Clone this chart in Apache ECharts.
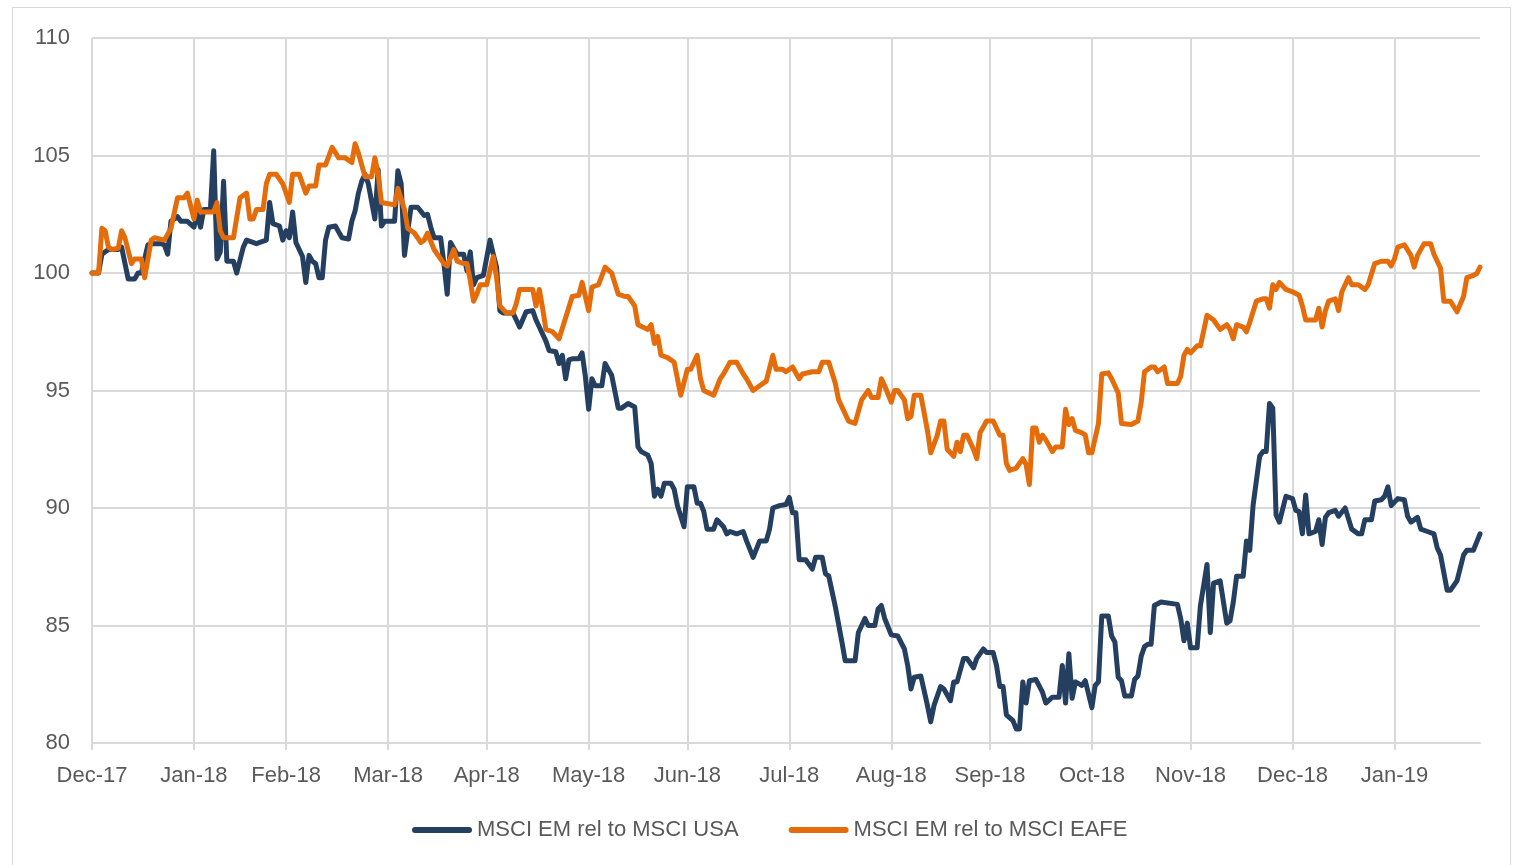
<!DOCTYPE html>
<html><head><meta charset="utf-8">
<script src="https://cdn.jsdelivr.net/npm/echarts@6/dist/echarts.min.js"></script>
<style>
html,body{margin:0;padding:0;background:#fff;overflow:hidden;width:1514px;height:865px;}
#frame{position:absolute;left:12px;top:7px;width:1499px;height:880px;border:1px solid #d9d9d9;box-sizing:border-box;}
#chart{position:absolute;left:0;top:0;width:1514px;height:865px;}
</style></head><body>
<div id="frame"></div>
<div id="chart"></div>
<script>
const axisStart = '2017-12-31';
const axisEnd = '2019-02-26';
const tickDates = ['2017-12-31','2018-01-31','2018-02-28','2018-03-31','2018-04-30','2018-05-31','2018-06-30','2018-07-31','2018-08-31','2018-09-30','2018-10-31','2018-11-30','2018-12-31','2019-01-31'];
const tickLabels = ['Dec-17','Jan-18','Feb-18','Mar-18','Apr-18','May-18','Jun-18','Jul-18','Aug-18','Sep-18','Oct-18','Nov-18','Dec-18','Jan-19'];
const yMin = 80, yMax = 110, yStep = 5;
const seriesNames = ['MSCI EM rel to MSCI USA','MSCI EM rel to MSCI EAFE'];
const seriesColors = ['#243F60','#E46C0A'];

const usaPoints = [
['2017-12-31',100.0],['2018-01-02',100.0],['2018-01-03',100.8],['2018-01-05',101.0],['2018-01-08',101.0],['2018-01-09',101.1],['2018-01-11',99.75],['2018-01-13',99.75],['2018-01-14',100.0],['2018-01-15',100.0],['2018-01-17',101.2],['2018-01-18',101.25],['2018-01-21',101.25],['2018-01-22',101.2],['2018-01-23',100.8],['2018-01-24',102.2],['2018-01-26',102.4],['2018-01-27',102.2],['2018-01-29',102.2],['2018-01-31',101.95],
['2018-02-01',102.5],['2018-02-02',101.95],['2018-02-03',102.7],['2018-02-05',102.7],['2018-02-06',105.2],['2018-02-07',100.6],['2018-02-08',100.9],['2018-02-09',103.9],['2018-02-10',100.5],['2018-02-12',100.5],['2018-02-13',100.0],['2018-02-15',101.1],['2018-02-16',101.4],['2018-02-19',101.25],['2018-02-20',101.3],['2018-02-22',101.4],['2018-02-23',103.0],['2018-02-24',102.1],['2018-02-26',102.0],['2018-02-27',101.4],['2018-02-28',101.8],
['2018-03-01',101.5],['2018-03-02',102.6],['2018-03-03',101.3],['2018-03-05',100.7],['2018-03-06',99.6],['2018-03-07',100.75],['2018-03-08',100.5],['2018-03-09',100.4],['2018-03-10',99.8],['2018-03-11',99.8],['2018-03-12',101.4],['2018-03-13',101.95],['2018-03-15',102.0],['2018-03-17',101.5],['2018-03-19',101.45],['2018-03-20',102.2],['2018-03-21',102.65],['2018-03-22',103.4],['2018-03-23',103.9],['2018-03-24',104.2],['2018-03-25',103.8],['2018-03-27',102.3],['2018-03-28',104.4],['2018-03-29',102.0],['2018-03-30',102.2],
['2018-04-02',102.2],['2018-04-03',104.35],['2018-04-04',103.8],['2018-04-05',100.75],['2018-04-06',101.8],['2018-04-07',102.8],['2018-04-09',102.8],['2018-04-11',102.45],['2018-04-12',102.5],['2018-04-13',101.95],['2018-04-14',101.5],['2018-04-16',101.5],['2018-04-17',100.4],['2018-04-18',99.1],['2018-04-19',101.3],['2018-04-21',100.8],['2018-04-23',100.8],['2018-04-24',100.1],['2018-04-25',100.9],['2018-04-26',99.5],['2018-04-27',99.8],['2018-04-29',99.9],
['2018-05-01',101.4],['2018-05-02',100.8],['2018-05-03',100.25],['2018-05-04',98.4],['2018-05-05',98.3],['2018-05-08',98.3],['2018-05-10',97.7],['2018-05-12',98.35],['2018-05-14',98.4],['2018-05-15',98.0],['2018-05-16',97.7],['2018-05-18',97.1],['2018-05-19',96.7],['2018-05-21',96.65],['2018-05-22',96.15],['2018-05-23',96.5],['2018-05-24',95.5],['2018-05-25',96.3],['2018-05-26',96.35],['2018-05-28',96.35],['2018-05-29',96.6],['2018-05-30',95.6],['2018-05-31',94.2],
['2018-06-01',95.5],['2018-06-02',95.2],['2018-06-04',95.2],['2018-06-05',96.15],['2018-06-06',95.9],['2018-06-07',95.65],['2018-06-09',94.25],['2018-06-10',94.25],['2018-06-12',94.45],['2018-06-14',94.3],['2018-06-15',92.6],['2018-06-16',92.4],['2018-06-18',92.25],['2018-06-19',91.9],['2018-06-20',90.5],['2018-06-21',90.8],['2018-06-22',90.5],['2018-06-23',91.05],['2018-06-25',91.05],['2018-06-26',90.8],['2018-06-27',90.1],['2018-06-29',89.2],['2018-06-30',90.9],
['2018-07-02',90.9],['2018-07-03',90.2],['2018-07-04',90.2],['2018-07-05',89.85],['2018-07-06',89.1],['2018-07-08',89.1],['2018-07-09',89.5],['2018-07-11',89.2],['2018-07-12',88.9],['2018-07-13',89.0],['2018-07-15',88.9],['2018-07-17',89.0],['2018-07-18',88.6],['2018-07-20',87.9],['2018-07-22',88.6],['2018-07-24',88.6],['2018-07-25',89.1],['2018-07-26',90.0],['2018-07-28',90.1],['2018-07-30',90.15],['2018-07-31',90.45],
['2018-08-01',89.8],['2018-08-02',89.8],['2018-08-03',87.8],['2018-08-05',87.8],['2018-08-07',87.4],['2018-08-08',87.9],['2018-08-10',87.9],['2018-08-11',87.2],['2018-08-12',87.1],['2018-08-14',85.8],['2018-08-16',84.3],['2018-08-17',83.5],['2018-08-20',83.5],['2018-08-21',84.7],['2018-08-23',85.3],['2018-08-24',85.0],['2018-08-26',85.0],['2018-08-27',85.7],['2018-08-28',85.85],['2018-08-29',85.3],['2018-08-31',84.6],
['2018-09-02',84.55],['2018-09-04',84.0],['2018-09-05',83.3],['2018-09-06',82.3],['2018-09-07',82.8],['2018-09-09',82.85],['2018-09-11',81.6],['2018-09-12',80.9],['2018-09-13',81.6],['2018-09-15',82.4],['2018-09-16',82.3],['2018-09-18',81.8],['2018-09-19',82.6],['2018-09-20',82.6],['2018-09-22',83.6],['2018-09-23',83.6],['2018-09-25',83.2],['2018-09-26',83.6],['2018-09-28',84.0],['2018-09-29',83.85],
['2018-10-01',83.85],['2018-10-02',83.3],['2018-10-03',82.4],['2018-10-04',82.4],['2018-10-05',81.2],['2018-10-07',80.95],['2018-10-08',80.6],['2018-10-09',80.6],['2018-10-10',82.6],['2018-10-11',81.7],['2018-10-12',82.65],['2018-10-14',82.7],['2018-10-16',82.15],['2018-10-17',81.7],['2018-10-19',81.95],['2018-10-21',81.95],['2018-10-22',83.3],['2018-10-23',81.7],['2018-10-24',83.8],['2018-10-25',81.9],['2018-10-26',82.6],['2018-10-28',82.45],['2018-10-29',82.65],['2018-10-31',81.5],
['2018-11-01',82.45],['2018-11-02',82.6],['2018-11-03',85.4],['2018-11-05',85.4],['2018-11-06',84.55],['2018-11-07',84.3],['2018-11-08',82.8],['2018-11-09',82.65],['2018-11-10',82.0],['2018-11-12',82.0],['2018-11-13',82.7],['2018-11-14',82.85],['2018-11-15',83.7],['2018-11-16',84.1],['2018-11-17',84.2],['2018-11-18',84.2],['2018-11-19',85.85],['2018-11-21',86.0],['2018-11-26',85.9],['2018-11-27',85.3],['2018-11-28',84.35],['2018-11-29',85.1],['2018-11-30',84.05],
['2018-12-02',84.05],['2018-12-03',85.85],['2018-12-05',87.6],['2018-12-06',84.7],['2018-12-07',86.8],['2018-12-09',86.9],['2018-12-11',85.1],['2018-12-12',85.2],['2018-12-13',86.0],['2018-12-14',87.1],['2018-12-16',87.1],['2018-12-17',88.6],['2018-12-18',88.2],['2018-12-19',90.1],['2018-12-21',92.2],['2018-12-22',92.4],['2018-12-23',92.4],['2018-12-24',94.45],['2018-12-25',94.25],['2018-12-26',89.7],['2018-12-27',89.4],['2018-12-29',90.5],['2018-12-31',90.4],
['2019-01-01',89.9],['2019-01-02',89.85],['2019-01-03',88.9],['2019-01-04',90.55],['2019-01-05',88.9],['2019-01-07',89.0],['2019-01-08',89.5],['2019-01-09',88.45],['2019-01-10',89.6],['2019-01-11',89.8],['2019-01-13',89.9],['2019-01-14',89.65],['2019-01-16',90.0],['2019-01-18',89.1],['2019-01-20',88.9],['2019-01-21',88.9],['2019-01-22',89.5],['2019-01-24',89.5],['2019-01-25',90.3],['2019-01-27',90.35],['2019-01-28',90.5],['2019-01-29',90.9],['2019-01-30',90.1],
['2019-02-01',90.4],['2019-02-03',90.35],['2019-02-04',89.65],['2019-02-05',89.4],['2019-02-07',89.6],['2019-02-08',89.1],['2019-02-10',89.0],['2019-02-12',88.9],['2019-02-13',88.3],['2019-02-14',88.0],['2019-02-16',86.5],['2019-02-17',86.5],['2019-02-19',86.9],['2019-02-21',88.0],['2019-02-22',88.2],['2019-02-24',88.2],['2019-02-26',88.9]
];

const eafePoints = [
['2017-12-31',100.0],['2018-01-02',100.0],['2018-01-03',101.9],['2018-01-04',101.8],['2018-01-05',101.1],['2018-01-06',101.0],['2018-01-08',101.05],['2018-01-09',101.8],['2018-01-10',101.5],['2018-01-12',100.4],['2018-01-13',100.6],['2018-01-15',100.6],['2018-01-16',99.8],['2018-01-18',101.4],['2018-01-19',101.5],['2018-01-22',101.4],['2018-01-24',101.9],['2018-01-26',103.2],['2018-01-28',103.2],['2018-01-29',103.4],['2018-01-31',102.3],
['2018-02-01',103.1],['2018-02-02',102.6],['2018-02-06',102.6],['2018-02-07',103.0],['2018-02-08',101.8],['2018-02-09',101.5],['2018-02-12',101.5],['2018-02-14',103.2],['2018-02-16',103.4],['2018-02-17',102.3],['2018-02-18',102.3],['2018-02-19',102.7],['2018-02-21',102.7],['2018-02-22',103.8],['2018-02-23',104.2],['2018-02-25',104.2],['2018-02-27',103.8],
['2018-03-01',103.0],['2018-03-02',104.2],['2018-03-04',104.2],['2018-03-06',103.4],['2018-03-07',103.7],['2018-03-09',103.7],['2018-03-10',104.6],['2018-03-12',104.6],['2018-03-14',105.35],['2018-03-16',104.9],['2018-03-18',104.9],['2018-03-20',104.7],['2018-03-21',105.5],['2018-03-22',105.1],['2018-03-24',104.1],['2018-03-26',104.1],['2018-03-27',104.9],['2018-03-28',104.2],['2018-03-29',103.0],
['2018-04-02',102.9],['2018-04-03',103.6],['2018-04-05',102.7],['2018-04-06',101.9],['2018-04-08',101.7],['2018-04-10',101.3],['2018-04-11',101.4],['2018-04-12',101.7],['2018-04-14',101.0],['2018-04-15',100.8],['2018-04-17',100.4],['2018-04-18',100.3],['2018-04-20',101.0],['2018-04-21',100.5],['2018-04-23',100.4],['2018-04-24',100.4],['2018-04-25',99.7],['2018-04-26',98.8],['2018-04-27',99.1],['2018-04-28',99.5],['2018-04-30',99.5],
['2018-05-02',100.7],['2018-05-03',99.8],['2018-05-04',98.6],['2018-05-06',98.3],['2018-05-08',98.3],['2018-05-09',98.7],['2018-05-10',99.3],['2018-05-12',99.3],['2018-05-14',99.3],['2018-05-15',98.6],['2018-05-16',99.3],['2018-05-17',98.5],['2018-05-18',97.6],['2018-05-20',97.5],['2018-05-22',97.2],['2018-05-24',98.1],['2018-05-26',99.0],['2018-05-28',99.05],['2018-05-29',99.6],['2018-05-31',98.4],
['2018-06-01',99.4],['2018-06-03',99.5],['2018-06-05',100.25],['2018-06-07',100.0],['2018-06-09',99.1],['2018-06-11',99.0],['2018-06-12',99.0],['2018-06-14',98.6],['2018-06-15',97.8],['2018-06-18',97.6],['2018-06-19',97.8],['2018-06-20',97.0],['2018-06-21',97.3],['2018-06-22',96.5],['2018-06-24',96.4],['2018-06-26',96.2],['2018-06-27',95.5],['2018-06-28',94.8],['2018-06-30',95.9],
['2018-07-01',95.9],['2018-07-03',96.5],['2018-07-04',95.5],['2018-07-05',95.0],['2018-07-08',94.8],['2018-07-10',95.5],['2018-07-11',95.7],['2018-07-13',96.2],['2018-07-15',96.2],['2018-07-17',95.7],['2018-07-18',95.5],['2018-07-20',95.0],['2018-07-22',95.2],['2018-07-24',95.4],['2018-07-26',96.5],['2018-07-27',95.9],['2018-07-29',95.9],['2018-07-30',95.8],
['2018-08-01',96.0],['2018-08-03',95.5],['2018-08-04',95.7],['2018-08-07',95.8],['2018-08-09',95.8],['2018-08-10',96.2],['2018-08-12',96.2],['2018-08-14',95.3],['2018-08-15',94.6],['2018-08-18',93.7],['2018-08-20',93.6],['2018-08-22',94.6],['2018-08-24',95.0],['2018-08-25',94.7],['2018-08-27',94.7],['2018-08-28',95.5],['2018-08-29',95.2],['2018-08-31',94.5],
['2018-09-01',95.0],['2018-09-02',95.0],['2018-09-04',94.6],['2018-09-05',93.8],['2018-09-06',93.9],['2018-09-07',94.8],['2018-09-09',94.8],['2018-09-11',93.3],['2018-09-12',92.35],['2018-09-14',93.1],['2018-09-15',93.7],['2018-09-16',93.7],['2018-09-17',92.5],['2018-09-19',92.2],['2018-09-20',92.8],['2018-09-21',92.4],['2018-09-22',93.1],['2018-09-23',93.1],['2018-09-25',92.5],['2018-09-26',92.1],['2018-09-27',93.2],['2018-09-29',93.7],
['2018-10-01',93.7],['2018-10-03',93.1],['2018-10-04',93.1],['2018-10-05',91.9],['2018-10-06',91.6],['2018-10-08',91.7],['2018-10-10',92.1],['2018-10-11',91.85],['2018-10-12',91.0],['2018-10-13',93.4],['2018-10-14',93.4],['2018-10-15',92.8],['2018-10-16',93.1],['2018-10-17',92.9],['2018-10-19',92.4],['2018-10-20',92.6],['2018-10-22',92.6],['2018-10-23',94.2],['2018-10-24',93.55],['2018-10-25',93.8],['2018-10-26',93.3],['2018-10-28',93.2],['2018-10-29',93.1],['2018-10-30',92.35],['2018-10-31',92.35],
['2018-11-02',93.6],['2018-11-03',95.7],['2018-11-05',95.75],['2018-11-06',95.5],['2018-11-08',94.9],['2018-11-09',93.6],['2018-11-12',93.55],['2018-11-14',93.7],['2018-11-15',94.5],['2018-11-16',95.8],['2018-11-18',96.0],['2018-11-19',96.0],['2018-11-20',95.8],['2018-11-22',96.0],['2018-11-23',95.3],['2018-11-26',95.3],['2018-11-27',95.6],['2018-11-28',96.5],['2018-11-29',96.75],['2018-11-30',96.6],
['2018-12-02',96.9],['2018-12-03',96.9],['2018-12-05',98.2],['2018-12-07',98.0],['2018-12-09',97.6],['2018-12-11',97.8],['2018-12-12',97.6],['2018-12-13',97.2],['2018-12-14',97.8],['2018-12-16',97.7],['2018-12-17',97.5],['2018-12-18',97.9],['2018-12-20',98.8],['2018-12-22',98.9],['2018-12-23',98.9],['2018-12-24',98.5],['2018-12-25',99.5],['2018-12-26',99.3],['2018-12-27',99.6],['2018-12-29',99.3],['2018-12-31',99.2],
['2019-01-02',99.05],['2019-01-03',98.6],['2019-01-04',98.0],['2019-01-07',98.0],['2019-01-08',98.5],['2019-01-09',97.7],['2019-01-10',98.4],['2019-01-11',98.8],['2019-01-13',98.9],['2019-01-14',98.4],['2019-01-15',99.2],['2019-01-17',99.8],['2019-01-18',99.5],['2019-01-20',99.5],['2019-01-22',99.3],['2019-01-23',99.5],['2019-01-25',100.4],['2019-01-27',100.5],['2019-01-29',100.5],['2019-01-30',100.3],['2019-01-31',100.6],
['2019-02-01',101.1],['2019-02-03',101.2],['2019-02-05',100.75],['2019-02-06',100.25],['2019-02-07',100.75],['2019-02-09',101.25],['2019-02-11',101.25],['2019-02-12',100.8],['2019-02-14',100.2],['2019-02-15',98.8],['2019-02-17',98.8],['2019-02-19',98.35],['2019-02-21',99.0],['2019-02-22',99.8],['2019-02-24',99.9],['2019-02-25',99.97],['2019-02-26',100.25]
];

// daily calendar categories for the x axis
const categories = [];
{
  const end = Date.parse(axisEnd + 'T00:00:00Z');
  for (let t = Date.parse(axisStart + 'T00:00:00Z'); t <= end; t += 86400000) {
    categories.push(new Date(t).toISOString().slice(0, 10));
  }
}
const catIndex = {};
categories.forEach((c, i) => { catIndex[c] = i; });
const tickSet = new Set(tickDates);
const isTick = (i, v) => tickSet.has(v);
const toData = pts => pts.filter(p => catIndex[p[0]] !== undefined).map(p => [catIndex[p[0]], p[1]]);

const FONT = '"Liberation Sans", Arial, sans-serif';
const GRID = '#d9d9d9';
const TEXT = '#595959';

const chart = echarts.init(document.getElementById('chart'), null, { renderer: 'canvas' });
chart.setOption({
  animation: false,
  textStyle: { fontFamily: FONT },
  grid: { left: 92, right: 34, top: 38, bottom: 122, containLabel: false, outerBoundsMode: 'none' },
  legend: {
    data: seriesNames,
    left: 412, top: 819, padding: 0,
    itemWidth: 60, itemHeight: 6, itemGap: 50,
    icon: 'path://M3,0 H57 A3,3 0 0 1 57,6 H3 A3,3 0 0 1 3,0 Z',
    textStyle: { fontSize: 22, color: TEXT, fontFamily: FONT }
  },
  xAxis: {
    type: 'category',
    data: categories,
    boundaryGap: false,
    axisLine: { show: true, lineStyle: { color: GRID, width: 2 } },
    axisTick: { show: true, interval: isTick, length: 7, lineStyle: { color: GRID, width: 2 } },
    splitLine: { show: true, interval: isTick, lineStyle: { color: GRID, width: 2 } },
    axisLabel: {
      interval: isTick, hideOverlap: false,
      margin: 22, fontSize: 22, color: TEXT, fontFamily: FONT,
      formatter: v => { const k = tickDates.indexOf(v); return k >= 0 ? tickLabels[k] : ''; }
    }
  },
  yAxis: {
    type: 'value', min: yMin, max: yMax, interval: yStep,
    axisLine: { show: false }, axisTick: { show: false },
    splitLine: { show: true, lineStyle: { color: GRID, width: 2 } },
    axisLabel: { fontSize: 22, color: TEXT, margin: 22, fontFamily: FONT }
  },
  series: [
    { name: seriesNames[0], type: 'line', data: toData(usaPoints), showSymbol: false, symbol: 'none',
      color: seriesColors[0], lineStyle: { width: 5, color: seriesColors[0], join: 'round', cap: 'round' } },
    { name: seriesNames[1], type: 'line', data: toData(eafePoints), showSymbol: false, symbol: 'none',
      color: seriesColors[1], lineStyle: { width: 5, color: seriesColors[1], join: 'round', cap: 'round' } }
  ]
});
</script>
</body></html>
